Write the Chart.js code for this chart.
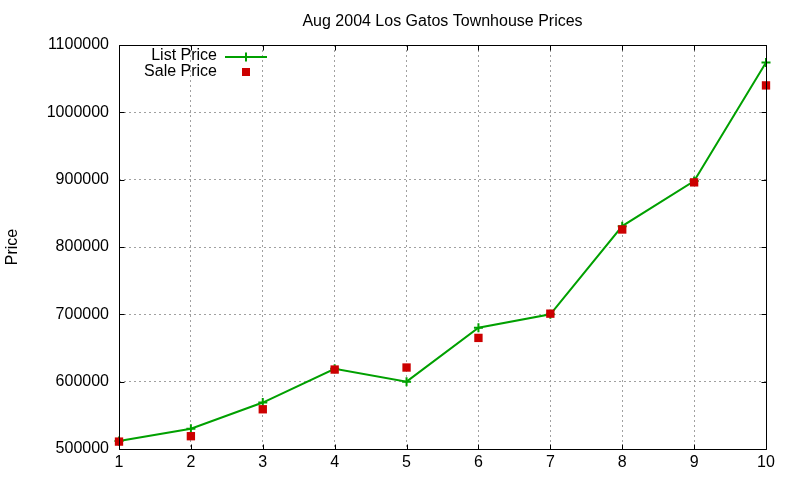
<!DOCTYPE html>
<html><head><meta charset="utf-8">
<script src="https://cdn.jsdelivr.net/npm/chart.js@4"></script>
<style>html,body{margin:0;padding:0;background:#fff}canvas{display:block}</style>
</head><body>
<canvas id="c" width="800" height="480"></canvas>
<script>
const chartTitle = 'Aug 2004 Los Gatos Townhouse Prices';
const yTitle = 'Price';
const houses = [1, 2, 3, 4, 5, 6, 7, 8, 9, 10];
const listPrice = [512000, 530000, 569000, 619000, 600000, 680000, 700000, 831000, 898000, 1074000];
const salePrice = [511000, 519000, 559000, 618000, 621000, 665000, 701000, 826000, 896000, 1040000];
const yMin = 500000, yMax = 1100000, yStep = 100000;

const FONT = '"Liberation Sans", Arial, sans-serif';
const FS = 16;
const GREEN = '#00a000';
const RED = '#cc0000';

const framePlugin = {
  id: 'frame',
  afterDraw(chart) {
    const ctx = chart.ctx, a = chart.chartArea;
    const xs = chart.scales.x, ys = chart.scales.y;
    ctx.save();
    ctx.strokeStyle = '#000';
    ctx.lineWidth = 1;
    ctx.setLineDash([]);
    ctx.beginPath();
    const L = Math.round(a.left) + 0.5, R = Math.round(a.right) + 0.5;
    const T = Math.round(a.top) + 0.5, B = Math.round(a.bottom) + 0.5;
    ctx.rect(L, T, R - L, B - T);
    const tl = 5;
    xs.ticks.forEach(t => {
      const px = Math.round(xs.getPixelForValue(t.value)) + 0.5;
      ctx.moveTo(px, B); ctx.lineTo(px, B - tl);
      ctx.moveTo(px, T); ctx.lineTo(px, T + tl);
    });
    ys.ticks.forEach(t => {
      const py = Math.round(ys.getPixelForValue(t.value)) + 0.5;
      ctx.moveTo(L, py); ctx.lineTo(L + tl, py);
      ctx.moveTo(R, py); ctx.lineTo(R - tl, py);
    });
    ctx.stroke();

    // title
    ctx.fillStyle = '#000';
    ctx.font = FS + 'px ' + FONT;
    ctx.textAlign = 'center';
    ctx.textBaseline = 'alphabetic';
    ctx.fillText(chartTitle, (a.left + a.right) / 2, 25.5);

    // legend
    const ds = chart.data.datasets;
    ctx.textAlign = 'right';
    ctx.textBaseline = 'middle';
    const tx = 217, sx0 = 225, sx1 = 267, mx = 246;
    let y0 = 56;
    ctx.fillText(ds[0].label, tx, y0);
    ctx.strokeStyle = GREEN; ctx.lineWidth = 2;
    ctx.beginPath(); ctx.moveTo(sx0, y0 + 1); ctx.lineTo(sx1, y0 + 1);
    ctx.moveTo(mx, y0 + 1 - 4.5); ctx.lineTo(mx, y0 + 1 + 4.5);
    ctx.stroke();
    let y1 = 71.5;
    ctx.fillText(ds[1].label, tx, y1);
    ctx.fillStyle = RED;
    ctx.fillRect(mx - 4, y1 - 3.5, 8, 8);
    ctx.restore();
  }
};

new Chart(document.getElementById('c'), {
  type: 'scatter',
  data: {
    datasets: [
      {
        label: 'List Price',
        data: houses.map((h, i) => ({x: h, y: listPrice[i]})),
        showLine: true,
        clip: false,
        borderColor: GREEN,
        backgroundColor: GREEN,
        borderWidth: 2,
        pointStyle: 'cross',
        pointRadius: 4.5,
        pointBorderWidth: 2,
        pointBorderColor: GREEN,
        tension: 0,
        order: 2
      },
      {
        label: 'Sale Price',
        data: houses.map((h, i) => ({x: h, y: salePrice[i]})),
        showLine: false,
        clip: false,
        pointStyle: 'rect',
        pointRadius: 5.9,
        pointBorderWidth: 0,
        backgroundColor: RED,
        borderColor: RED,
        order: 1
      }
    ]
  },
  options: {
    responsive: false,
    animation: false,
    devicePixelRatio: 1,
    layout: {padding: {top: 45, right: 34, left: 0, bottom: 0}},
    plugins: {legend: {display: false}, tooltip: {enabled: false}, title: {display: false}},
    scales: {
      x: {
        type: 'linear', min: 1, max: 10,
        ticks: {stepSize: 1, color: '#000', font: {family: FONT, size: FS}, padding: 4, maxRotation: 0,
                callback: v => String(v)},
        grid: {color: '#a0a0a0', lineWidth: 1, drawTicks: false},
        border: {display: false, dash: [2, 3]},
        afterFit(s) { s.height = 31; }
      },
      y: {
        type: 'linear', min: yMin, max: yMax,
        ticks: {stepSize: yStep, color: '#000', font: {family: FONT, size: FS}, padding: 10,
                callback: v => String(v)},
        grid: {color: '#a0a0a0', lineWidth: 1, drawTicks: false},
        border: {display: false, dash: [2, 3]},
        title: {display: true, text: yTitle, color: '#000', font: {family: FONT, size: FS}, padding: 3},
        afterFit(s) { s.width = 119; }
      }
    }
  },
  plugins: [framePlugin]
});
</script>
</body></html>
